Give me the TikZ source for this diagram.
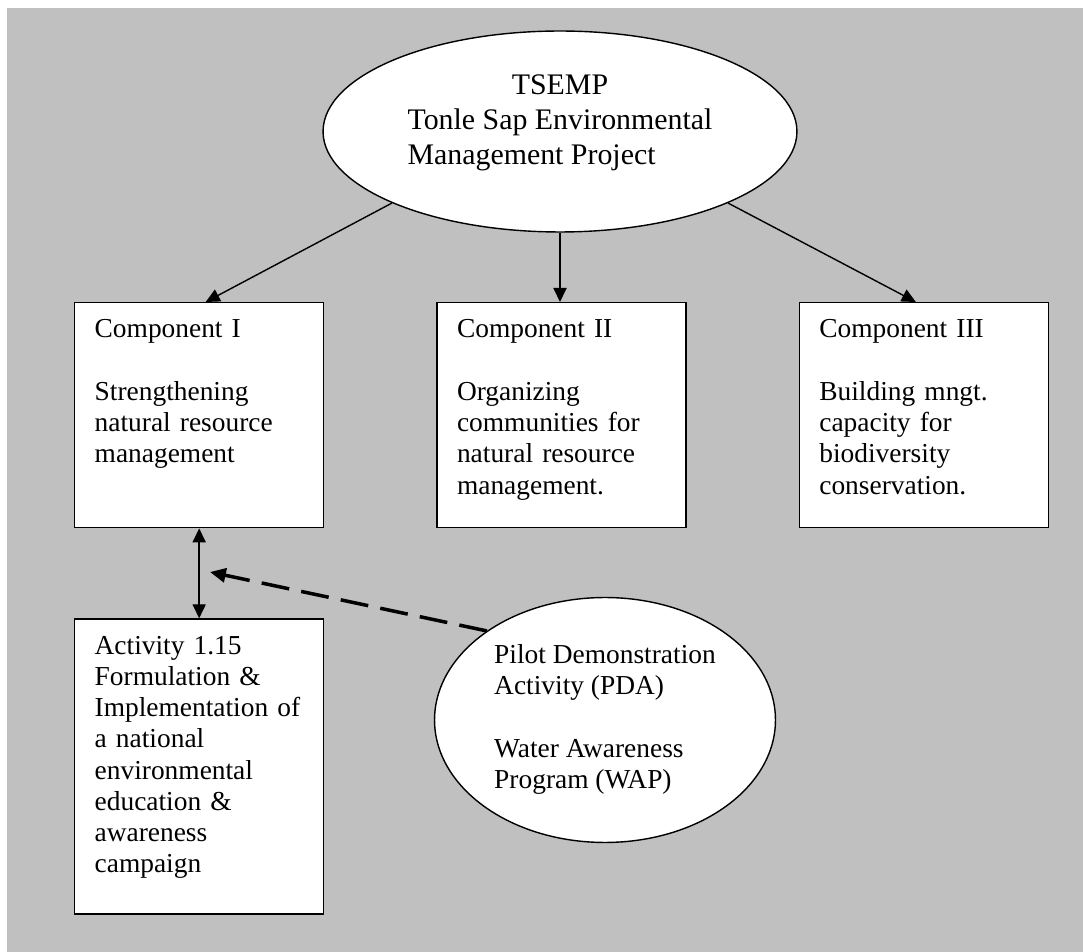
\documentclass[tikz,border=0pt]{standalone}
\usepackage{fontspec}
\setmainfont{Liberation Serif}
\usepackage{tikz}
\usetikzlibrary{shapes.geometric,arrows.meta,positioning}

\definecolor{bggray}{HTML}{C0C0C0}
\newcommand{\boxfont}{\fontsize{15.6}{17.8}\selectfont}
\newcommand{\ovalfont}{\fontsize{17}{19.9}\selectfont}

\tikzset{
  oval/.style={ellipse, draw, fill=white, line width=0.8pt, inner sep=0pt},
  compbox/.style={rectangle, draw, fill=white, line width=0.8pt, anchor=north west,
    text width=4.18cm, align=left, inner xsep=0.4cm, inner ysep=0.2cm,
    text height=0.5cm, font=\boxfont},
  link/.style={line width=0.8pt, ->},
  pilotlink/.style={line width=2pt, dash pattern=on 16pt off 7pt, -{Triangle[length=9pt,width=8pt]}}
}

\begin{document}
\begin{tikzpicture}[x=0.02cm, y=-0.02cm, >={Triangle[length=8pt,width=7.5pt]}]
\useasboundingbox (0,0) rectangle (1083,952);
\fill[bggray] (7,8) rectangle (1083,952);

% Project
\node[oval, minimum width=9.48cm, minimum height=4.02cm, font=\ovalfont] (tsemp) at (560,131.5)
  {\raisebox{0.18cm}[\height][\depth]{\begin{tabular}{@{}l@{}}\multicolumn{1}{@{}c@{}}{TSEMP}\\ Tonle Sap Environmental\\ Management Project\end{tabular}}};

% Components
\node[compbox, text depth=3.6cm] (comp1) at (74,302)
  {Component I\\[17.8pt] Strengthening\\ natural resource\\ management};
\node[compbox, text depth=3.6cm, right=2.24cm of comp1] (comp2)
  {Component II\\[17.8pt] Organizing\\ communities for\\ natural resource\\ management.};
\node[compbox, text depth=3.6cm, right=2.24cm of comp2] (comp3)
  {Component III\\[17.8pt] Building mngt.\\ capacity for\\ biodiversity\\ conservation.};

% Activity
\node[compbox, text depth=5cm, below=1.8cm of comp1] (act)
  {Activity 1.15\\ Formulation \&\\ Implementation of\\ a national\\ environmental\\ education \&\\ awareness\\ campaign};

% Pilot
\node[oval, minimum width=6.82cm, minimum height=4.9cm, font=\boxfont] (pda) at (605,720)
  {\begin{tabular}{@{}l@{}}Pilot Demonstration\\ Activity (PDA)\\ \\ Water Awareness\\ Program (WAP)\end{tabular}};

% Links
\draw[link] (tsemp.south west) -- ([xshift=0.13cm]comp1.north);
\draw[link] (tsemp.south) -- (tsemp.south |- comp2.north);
\draw[link] (tsemp.south east) -- ([xshift=-0.16cm]comp3.north);
\draw[link, <->] (comp1) -- (act);

\coordinate (aim) at (210,572);
\draw[pilotlink] (pda.143) -- (aim);
\end{tikzpicture}
\end{document}
